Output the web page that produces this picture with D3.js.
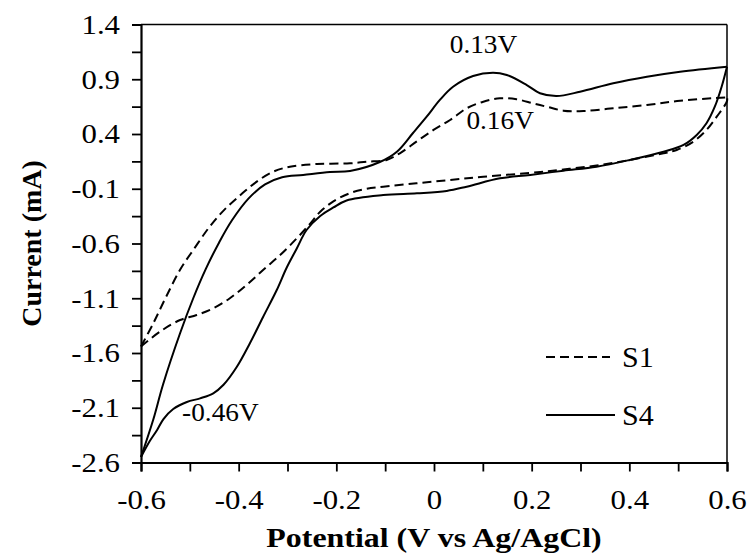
<!DOCTYPE html>
<html>
<head>
<meta charset="utf-8">
<script src="https://cdn.jsdelivr.net/npm/d3@7"></script>
<style>
  html, body { margin: 0; padding: 0; background: #fff; }
  svg { display: block; }
  text { font-family: "Liberation Serif", "Times New Roman", serif; fill: #000; }
</style>
</head>
<body>
<svg id="chart" width="750" height="554"></svg>
<script>
// Cyclic voltammograms: each loop runs forward from -0.6 V to 0.6 V, then back.
const s1Potential = [-0.6, -0.575, -0.55, -0.52, -0.49, -0.46, -0.43, -0.397, -0.363, -0.329, -0.295, -0.240, -0.172, -0.138, -0.097, -0.070, -0.036, -0.001, 0.033, 0.067, 0.101, 0.135, 0.169, 0.203, 0.231, 0.265, 0.306, 0.367, 0.436, 0.504, 0.6,
  0.6, 0.579, 0.558, 0.531, 0.497, 0.470, 0.401, 0.333, 0.265, 0.197, 0.101, 0.033, -0.036, -0.104, -0.138, -0.172, -0.206, -0.233, -0.254, -0.281, -0.315, -0.350, -0.384, -0.418, -0.452, -0.486, -0.520, -0.561, -0.6];
const s1Current = [-1.54, -1.33, -1.1, -0.84, -0.64, -0.45, -0.295, -0.16, -0.035, 0.056, 0.101, 0.126, 0.132, 0.147, 0.163, 0.224, 0.33, 0.437, 0.528, 0.635, 0.695, 0.726, 0.717, 0.68, 0.649, 0.613, 0.61, 0.635, 0.665, 0.704, 0.735,
  0.70, 0.558, 0.437, 0.33, 0.254, 0.224, 0.163, 0.112, 0.076, 0.044, 0.01, -0.02, -0.05, -0.081, -0.1, -0.14, -0.215, -0.31, -0.42, -0.553, -0.705, -0.842, -0.979, -1.10, -1.192, -1.253, -1.299, -1.405, -1.54];

const s4Potential = [-0.6, -0.575, -0.555, -0.52, -0.493, -0.467, -0.44, -0.414, -0.38, -0.346, -0.311, -0.268, -0.213, -0.172, -0.111, -0.076, -0.043, -0.015, 0.012, 0.039, 0.080, 0.121, 0.149, 0.190, 0.217, 0.251, 0.299, 0.367, 0.436, 0.504, 0.6,
  0.589, 0.575, 0.558, 0.538, 0.511, 0.470, 0.401, 0.333, 0.265, 0.197, 0.135, 0.067, 0.026, -0.035, -0.104, -0.179, -0.206, -0.233, -0.261, -0.281, -0.302, -0.322, -0.350, -0.377, -0.404, -0.431, -0.452, -0.479, -0.506, -0.534, -0.554, -0.567, -0.582, -0.6];
const s4Current = [-2.55, -2.21, -1.89, -1.42, -1.10, -0.83, -0.59, -0.39, -0.19, -0.06, 0.005, 0.026, 0.053, 0.062, 0.144, 0.238, 0.409, 0.558, 0.711, 0.832, 0.93, 0.96, 0.939, 0.847, 0.772, 0.747, 0.786, 0.863, 0.923, 0.969, 1.015,
  0.832, 0.649, 0.498, 0.391, 0.3, 0.238, 0.163, 0.101, 0.065, 0.026, -0.005, -0.081, -0.12, -0.142, -0.158, -0.207, -0.271, -0.349, -0.477, -0.646, -0.824, -1.025, -1.271, -1.511, -1.728, -1.89, -1.968, -2.014, -2.047, -2.111, -2.203, -2.303, -2.404, -2.55];

const seriesNames = ["S1", "S4"];
const seriesDash = ["9,5", null];

const xMajorTicks = [-0.6, -0.4, -0.2, 0, 0.2, 0.4, 0.6];
const xMinorTicks = [-0.5, -0.3, -0.1, 0.1, 0.3, 0.5];
const yMajorTicks = [-2.6, -2.1, -1.6, -1.1, -0.6, -0.1, 0.4, 0.9, 1.4];
const yMinorTicks = [-2.35, -1.85, -1.35, -0.85, -0.35, 0.15, 0.65, 1.15];

const peakLabels = [
  { text: "0.13V", x: 0.13, y: 0.96 },
  { text: "0.16V", x: 0.16, y: 0.726 },
  { text: "-0.46V", x: -0.46, y: -2.0 }
];

const svg = d3.select("#chart");
const margin = { left: 141, right: 23, top: 24.5, bottom: 91.5 };
const W = 750, H = 554;
const textStretch = 1.1;

const x = d3.scaleLinear().domain([-0.6, 0.6]).range([margin.left, W - margin.right]);
const y = d3.scaleLinear().domain([-2.6, 1.4]).range([H - margin.bottom, margin.top]);

// Frame: top and right borders
svg.append("line").attr("x1", x(-0.6)).attr("x2", x(0.6)).attr("y1", y(1.4)).attr("y2", y(1.4))
  .attr("stroke", "#000").attr("stroke-width", 1.5);
svg.append("line").attr("x1", x(0.6)).attr("x2", x(0.6)).attr("y1", y(1.4)).attr("y2", y(-2.6))
  .attr("stroke", "#000").attr("stroke-width", 1.5);

// Plain hyphen for negative numbers
const fmtX = d => d === 0 ? "0" : d.toFixed(1);
const fmtY = d => d.toFixed(1);

// Bottom axis (major + minor)
svg.append("g").attr("class", "xaxis").attr("transform", `translate(0,${y(-2.6)})`)
  .call(d3.axisBottom(x).tickValues(xMajorTicks).tickFormat(fmtX).tickSize(9).tickPadding(18));
svg.append("g").attr("transform", `translate(0,${y(-2.6)})`)
  .call(d3.axisBottom(x).tickValues(xMinorTicks).tickFormat("").tickSize(9))
  .call(g => g.select(".domain").remove());

// Left axis (major + minor)
svg.append("g").attr("class", "yaxis").attr("transform", `translate(${x(-0.6)},0)`)
  .call(d3.axisLeft(y).tickValues(yMajorTicks).tickFormat(fmtY).tickSize(9).tickPadding(12));
svg.append("g").attr("transform", `translate(${x(-0.6)},0)`)
  .call(d3.axisLeft(y).tickValues(yMinorTicks).tickFormat("").tickSize(9))
  .call(g => g.select(".domain").remove());

svg.selectAll(".domain").attr("stroke", "#000").attr("stroke-width", 2.2);
svg.selectAll(".tick line").attr("stroke", "#000").attr("stroke-width", 1.8);
svg.selectAll(".tick text").attr("font-family", "Liberation Serif").attr("font-size", 28).attr("fill", "#000");
svg.selectAll(".xaxis .tick text").attr("transform", `scale(${textStretch},1)`);
svg.selectAll(".yaxis .tick text").attr("x", 0).attr("transform", `translate(-21,0) scale(${textStretch},1)`);

// Axis titles
svg.append("text").attr("transform", `translate(${x(0)},547) scale(1.14,1)`).attr("text-anchor", "middle")
  .attr("font-size", 28).attr("font-weight", "bold").text("Potential (V vs Ag/AgCl)");
svg.append("text").attr("transform", `translate(41,${(y(1.4) + y(-2.6)) / 2}) rotate(-90)`)
  .attr("text-anchor", "middle").attr("font-size", 28).attr("font-weight", "bold").text("Current (mA)");

// Curves: split each loop into its forward and reverse sweep, draw each sweep in x order
const line = d3.line().x(d => x(d[0])).y(d => y(d[1])).curve(d3.curveCatmullRom.alpha(0.5));
function sweeps(pot, cur) {
  const pts = pot.map((p, i) => [p, cur[i]]);
  const turn = pot.indexOf(d3.max(pot));
  const forward = pts.slice(0, turn + 1);
  const reverse = pts.slice(turn).reverse();
  return [forward, reverse];
}
[sweeps(s1Potential, s1Current), sweeps(s4Potential, s4Current)].forEach((pair, i) => {
  pair.forEach(branch => {
    svg.append("path").datum(branch).attr("d", line).attr("fill", "none")
      .attr("stroke", "#000").attr("stroke-width", 2)
      .attr("stroke-dasharray", seriesDash[i]);
  });
});

// Peak annotations
const labelOffsets = [[-14, -20], [-12, 31], [11, 24]];
peakLabels.forEach((p, i) => {
  svg.append("text")
    .attr("transform", `translate(${x(p.x) + labelOffsets[i][0]},${y(p.y) + labelOffsets[i][1]}) scale(1.05,1)`)
    .attr("text-anchor", "middle").attr("font-size", 26).text(p.text);
});

// Legend
const legend = svg.append("g");
seriesNames.forEach((name, i) => {
  const ly = 357 + i * 58;
  legend.append("line").attr("x1", 546).attr("x2", i === 0 ? 610 : 615).attr("y1", ly).attr("y2", ly)
    .attr("stroke", "#000").attr("stroke-width", 2).attr("stroke-dasharray", seriesDash[i]);
  legend.append("text").attr("x", 622).attr("y", ly + 10).attr("font-size", 30).text(name);
});
</script>
</body>
</html>
